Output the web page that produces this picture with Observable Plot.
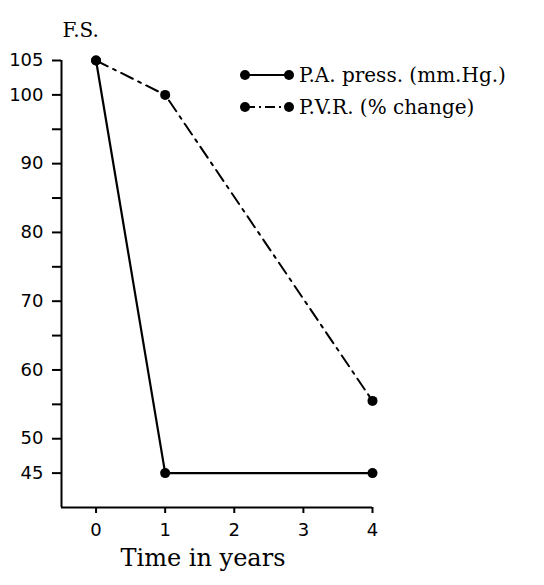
<!DOCTYPE html>
<html>
<head>
<meta charset="utf-8">
<script src="https://cdn.jsdelivr.net/npm/d3@7"></script>
<script src="https://cdn.jsdelivr.net/npm/@observablehq/plot@0.6"></script>
<style>
  body { margin: 0; background: #fff; }
  #wrap { position: relative; width: 544px; height: 585px; }
  #legend { position: absolute; left: 238px; top: 59px; font-family: "DejaVu Serif", serif; font-size: 20px; color: #000; }
  #legend div { display: flex; align-items: center; height: 32px; }
  #legend svg { margin-right: 5px; }
</style>
</head>
<body>
<div id="wrap"></div>
<script>
const years = [0, 1, 4];
const paPress = [105, 45, 45];
const pvrChange = [105, 100, 55.5];
const seriesNames = ["P.A. press. (mm.Hg.)", "P.V.R. (% change)"];
const yTickLabels = [45, 50, 60, 70, 80, 90, 100, 105];
const yMinorTicks = [55, 65, 75, 85, 95];
const xTicks = [0, 1, 2, 3, 4];
const yTitle = "F.S.";
const xTitle = "Time in years";

const pa = years.map((t, i) => ({t, v: paPress[i]}));
const pvr = years.map((t, i) => ({t, v: pvrChange[i]}));

const chart = Plot.plot({
  width: 544,
  height: 585,
  marginLeft: 61,
  marginRight: 172,
  marginTop: 60,
  marginBottom: 78,
  style: {background: "#fff", color: "#000", fontFamily: "DejaVu Sans, sans-serif"},
  x: {domain: [-0.5, 4]},
  y: {domain: [40, 105]},
  marks: [
    Plot.ruleX([-0.5], {y1: 40, y2: 105, stroke: "#000", strokeWidth: 2}),
    Plot.ruleY([40], {x1: -0.5, x2: 4, stroke: "#000", strokeWidth: 2}),
    Plot.axisY({ticks: yTickLabels, tickSize: 9, tickPadding: 9, tickFormat: d3.format("d"), label: null, fontSize: 18, strokeWidth: 2}),
    Plot.axisY({ticks: yMinorTicks, tickSize: 9, tickFormat: () => "", label: null, strokeWidth: 2}),
    Plot.axisX({ticks: xTicks, tickSize: 6, tickPadding: 10, tickFormat: d3.format("d"), label: null, fontSize: 18, strokeWidth: 2}),
    Plot.line(pa, {x: "t", y: "v", stroke: "#000", strokeWidth: 2.2}),
    Plot.line(pvr, {x: "t", y: "v", stroke: "#000", strokeWidth: 2, strokeDasharray: "13,6,3,6"}),
    Plot.dot(pa, {x: "t", y: "v", r: 5, fill: "#000"}),
    Plot.dot(pvr, {x: "t", y: "v", r: 5, fill: "#000"}),
    Plot.text([yTitle], {frameAnchor: "top-left", text: d => d, dx: 1, dy: -38, textAnchor: "start", fontSize: 20, fontFamily: "DejaVu Serif, serif"}),
    Plot.text([xTitle], {frameAnchor: "bottom", text: d => d, dx: -14, dy: 58, fontSize: 24, fontFamily: "DejaVu Serif, serif"})
  ]
});
const wrap = document.getElementById("wrap");
wrap.appendChild(chart);

const legend = document.createElement("div");
legend.id = "legend";
const dashes = [null, "10,4,2,4"];
seriesNames.forEach((name, i) => {
  const row = document.createElement("div");
  const s = d3.create("svg").attr("width", 56).attr("height", 14);
  s.append("line").attr("x1", 7).attr("x2", 50).attr("y1", 7).attr("y2", 7)
    .attr("stroke", "#000").attr("stroke-width", 2).attr("stroke-dasharray", dashes[i]);
  s.append("circle").attr("cx", 7).attr("cy", 7).attr("r", 5).attr("fill", "#000");
  s.append("circle").attr("cx", 51).attr("cy", 7).attr("r", 5).attr("fill", "#000");
  row.appendChild(s.node());
  const span = document.createElement("span");
  span.textContent = name;
  row.appendChild(span);
  legend.appendChild(row);
});
wrap.appendChild(legend);
</script>
</body>
</html>
